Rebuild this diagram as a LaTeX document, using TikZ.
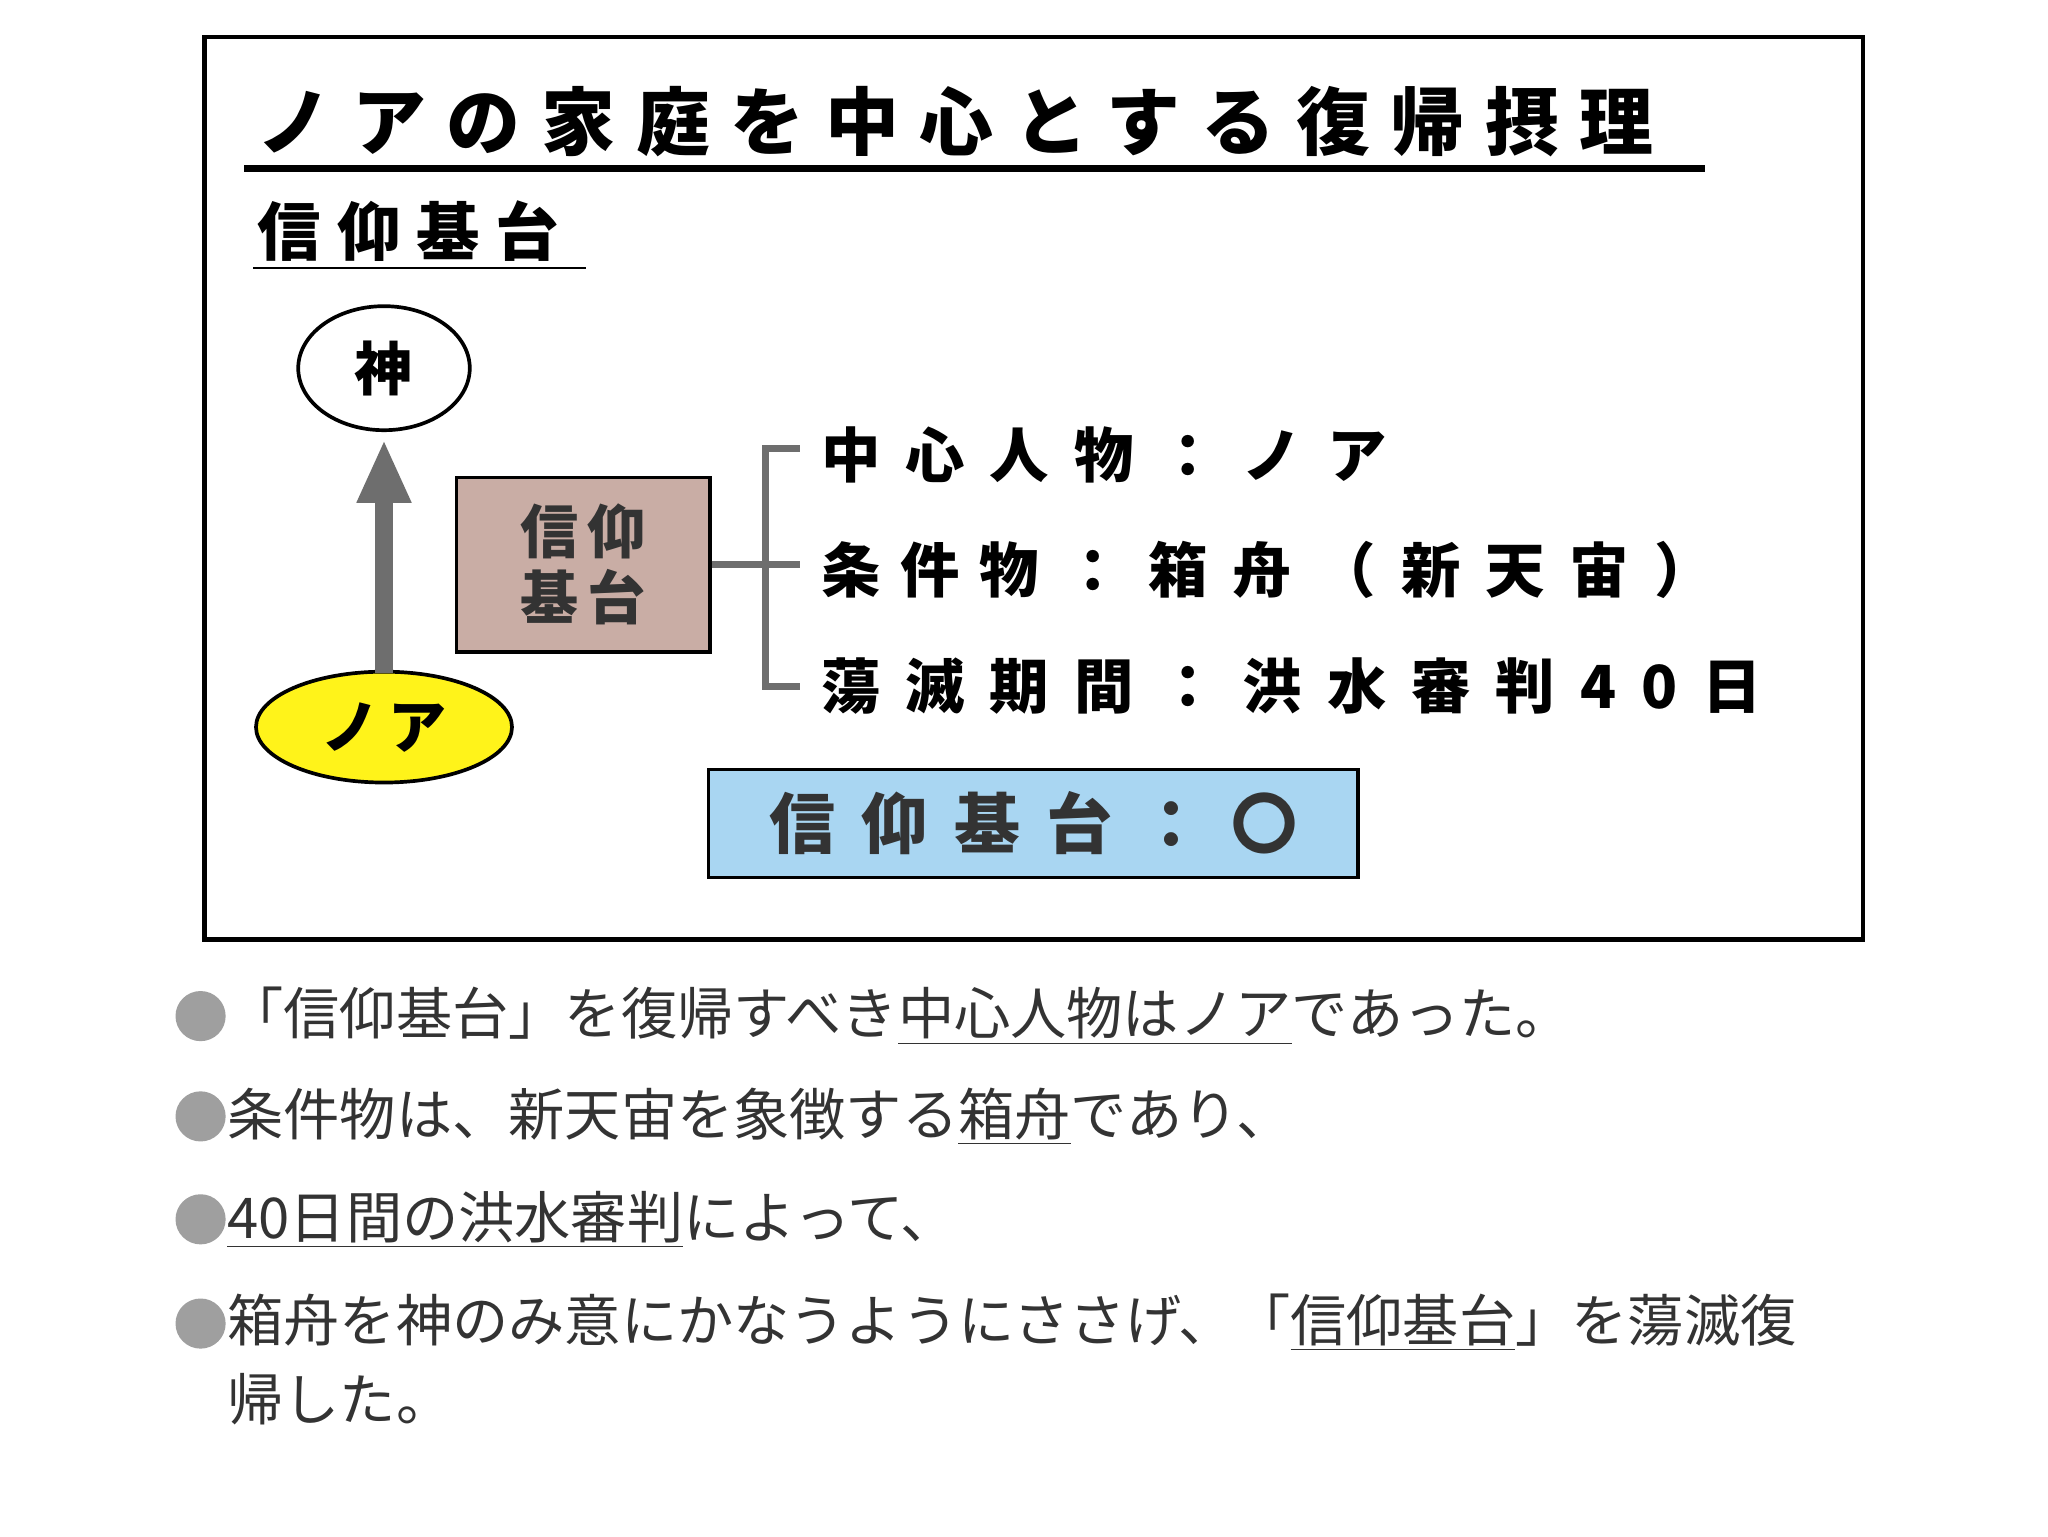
\documentclass[tikz,border=0pt]{standalone}
\usepackage{fontspec}
\setmainfont{Noto Sans CJK JP}
\usetikzlibrary{arrows.meta}
\definecolor{brownbox}{HTML}{C9ADA5}
\definecolor{bluebox}{HTML}{A9D6F2}
\definecolor{txtgray}{HTML}{333333}
\definecolor{lgray}{HTML}{6E6E6E}
\tikzset{
 bt/.style={font=\bfseries\fontsize{22.5}{26}\selectfont\addfontfeature{LetterSpace=42},anchor=west,inner sep=0},
 bul/.style={circle,fill=gray!75,minimum size=19pt,inner sep=0},
 bl/.style={font=\fontsize{21.3}{30}\selectfont,text=txtgray,anchor=west,inner sep=0,align=left},
}
\newcommand{\ul}[1]{\underline{#1}}
\begin{document}
\begin{tikzpicture}[x=0.5pt,y=-0.5pt]
\useasboundingbox (0,0) rectangle (1552,1164);
\fill[white] (0,0) rectangle (1552,1164);
\draw[line width=1.6pt] (155,28) rectangle (1412,712);
\node[font=\bfseries\fontsize{28}{32}\selectfont\addfontfeature{LetterSpace=28},anchor=west,inner sep=0] (title) at (195,92) {ノアの家庭を中心とする復帰摂理};
\draw[line width=2.6pt] (185,128) -- (1292,128);
\node[font=\bfseries\fontsize{24}{28}\selectfont\addfontfeature{LetterSpace=25},anchor=west,inner sep=0] (sub) at (195,175) {信仰基台};
\draw[line width=0.8pt] (192,203) -- (444,203);
\draw[line width=1.4pt] (291,279) ellipse [x radius=65,y radius=47];
\node[font=\bfseries\fontsize{22}{26}\selectfont] (kt) at (291,279) {神};
\draw[line width=1.4pt,fill=yellow!90!white] (291,551) ellipse [x radius=97,y radius=42];
\node[font=\bfseries\fontsize{22}{26}\selectfont] (noa) at (291,551) {ノ\,ア};
\coordinate (as) at (291,510); \coordinate (ae) at (291,333);
\draw[line width=7pt,lgray,-{Triangle[length=24pt,width=19pt]}] (as) -- (ae);
\node[draw,line width=1.3pt,fill=brownbox,minimum width=96pt,minimum height=66pt,font=\bfseries\fontsize{22}{25}\selectfont\addfontfeature{LetterSpace=15},align=center,text=txtgray] (box) at (442,428) {信仰\\基台};
\coordinate (bm) at (606,428);
\draw[line width=2.8pt,lgray] (box.east) -- (bm);
\draw[line width=2.8pt,lgray] (606,340) -- (580,340) -- (580,520) -- (606,520);
\node[bt] (l1) at (622,345) {中心人物：ノア};
\node[bt] (l2) at (622,432) {条\,\,件\,\,物：箱舟（新天宙）};
\node[bt] (l3) at (622,520) {蕩滅期間：洪水審判40日};
\node[draw,line width=1.3pt,fill=bluebox,minimum width=246pt,minimum height=41pt,font=\bfseries\fontsize{25}{28}\selectfont\addfontfeature{LetterSpace=40},text=txtgray] (blue) at (783,624) {信仰基台：〇};
\node[bul] (b1) at (152,770) {};
\node[bul] (b2) at (152,846) {};
\node[bul] (b3) at (152,924) {};
\node[bul] (b4) at (152,1003) {};
\node[bl] (t1) at (172,770) {「信仰基台」を復帰すべき\ul{中心人物はノア}であった。};
\node[bl] (t2) at (172,846) {条件物は、新天宙を象徴する\ul{箱舟}であり、};
\node[bl] (t3) at (172,924) {\ul{40日間の洪水審判}によって、};
\node[bl,anchor=north west] (t4) at (172,980) {箱舟を神のみ意にかなうようにささげ、「\ul{信仰基台}」を蕩滅復\\帰した。};
\end{tikzpicture}
\end{document}
